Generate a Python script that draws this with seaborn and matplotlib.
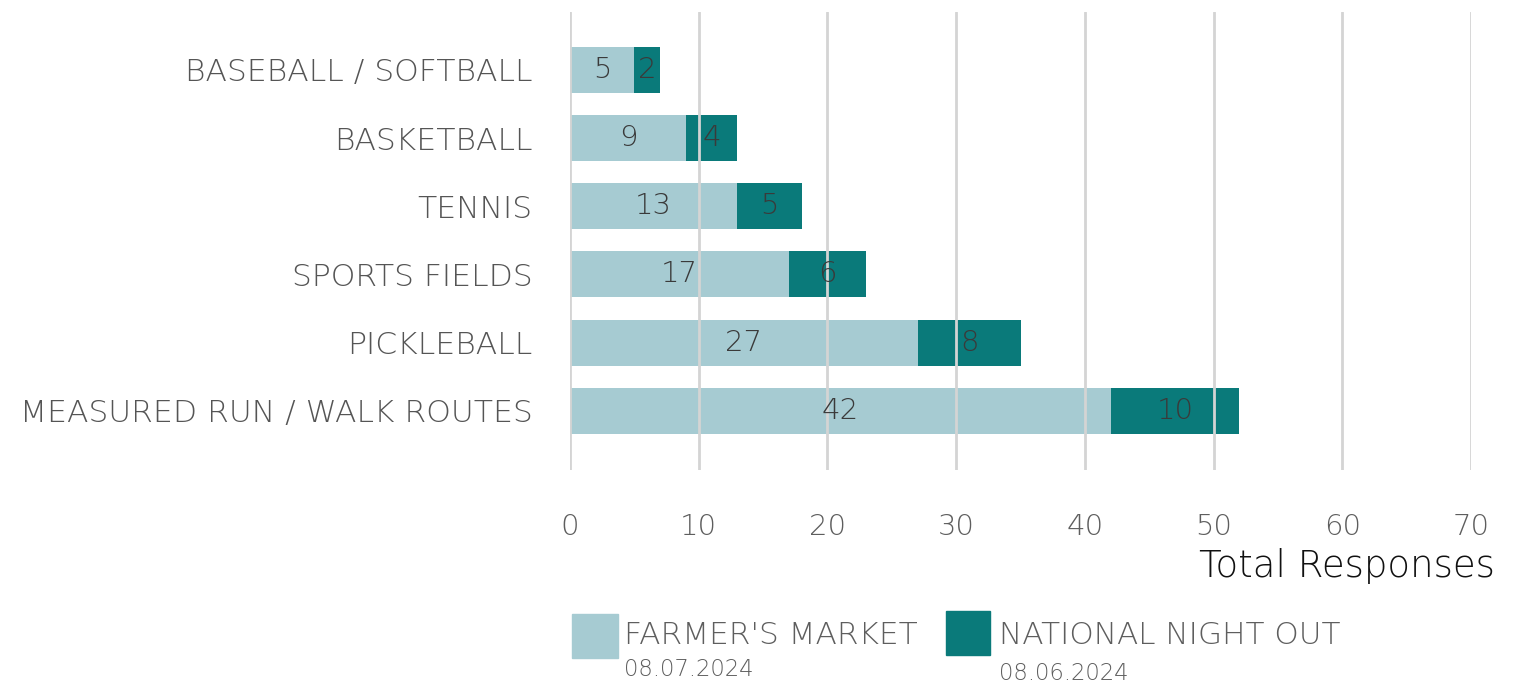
import matplotlib
matplotlib.use("Agg")
import matplotlib.pyplot as plt
import seaborn as sns
import pandas as pd
from matplotlib.patches import Rectangle

# data
categories = ["BASEBALL / SOFTBALL", "BASKETBALL", "TENNIS", "SPORTS FIELDS",
              "PICKLEBALL", "MEASURED RUN / WALK ROUTES"]
farmers_market = [5, 9, 13, 17, 27, 42]
national_night_out = [2, 4, 5, 6, 8, 10]
x_ticks = [0, 10, 20, 30, 40, 50, 60, 70]

light_col = "#a6cbd2"
dark_col = "#0a7a7a"
W = "ultralight"

sns.set_theme(style="white")
plt.rcParams["font.family"] = ["DejaVu Sans"]

df = pd.DataFrame({"category": categories, "farmer": farmers_market, "night": national_night_out})
df["total"] = df["farmer"] + df["night"]

fig = plt.figure(figsize=(15.36, 6.87), dpi=100)
ax = fig.add_axes([570 / 1536, 1 - 470 / 687, (1471 - 570) / 1536, (470 - 12) / 687])

# totals in dark first, farmer's market on top in light
sns.barplot(data=df, x="total", y="category", color=dark_col, width=0.675,
            saturation=1, linewidth=0, ax=ax, orient="h")
sns.barplot(data=df, x="farmer", y="category", color=light_col, width=0.675,
            saturation=1, linewidth=0, ax=ax, orient="h")

for i, row in df.iterrows():
    ax.text(row["farmer"] / 2, i, str(row["farmer"]), ha="center", va="center",
            fontsize=21, color="#3a3a3a", fontweight=W, zorder=5)
    ax.text(row["farmer"] + row["night"] / 2, i, str(row["night"]), ha="center", va="center",
            fontsize=21, color="#3a3a3a", fontweight=W, zorder=5)

ax.set_xlim(0, 70)
ax.set_ylim(5.87, -0.85)
ax.set_xticks(x_ticks)
ax.set_axisbelow(False)
ax.grid(axis="x", color="#d4d4d4", linewidth=2.0, zorder=3)
ax.grid(axis="y", visible=False)
for s in ax.spines.values():
    s.set_visible(False)

ax.tick_params(axis="x", length=0, pad=31, labelsize=21, labelcolor="#5e5e5e")
ax.tick_params(axis="y", length=0, pad=27, labelsize=22.6, labelcolor="#555555")
for lbl in ax.get_xticklabels() + ax.get_yticklabels():
    lbl.set_fontweight(W)
ax.set_ylabel("")
ax.set_xlabel("")

fig.text(1495 / 1536, 1 - 566 / 687, "Total Responses", ha="right", va="center",
         fontsize=26.7, color="#111111", fontweight=W)

# legend drawn manually
fig.add_artist(Rectangle((572 / 1536, 1 - 658 / 687), 46 / 1536, 44 / 687,
                         transform=fig.transFigure, color=light_col))
fig.add_artist(Rectangle((946 / 1536, 1 - 655 / 687), 44 / 1536, 44 / 687,
                         transform=fig.transFigure, color=dark_col))
fig.text(624 / 1536, 1 - 636 / 687, "FARMER'S MARKET", ha="left", va="center",
         fontsize=22.5, color="#5e5e5e", fontweight=W)
fig.text(624 / 1536, 1 - 670 / 687, "08.07.2024", ha="left", va="center",
         fontsize=16.4, color="#5e5e5e", fontweight=W)
fig.text(999 / 1536, 1 - 636 / 687, "NATIONAL NIGHT OUT", ha="left", va="center",
         fontsize=22.4, color="#5e5e5e", fontweight=W)
fig.text(999 / 1536, 1 - 673 / 687, "08.06.2024", ha="left", va="center",
         fontsize=16.4, color="#5e5e5e", fontweight=W)

fig.savefig("out.png", dpi=100)
